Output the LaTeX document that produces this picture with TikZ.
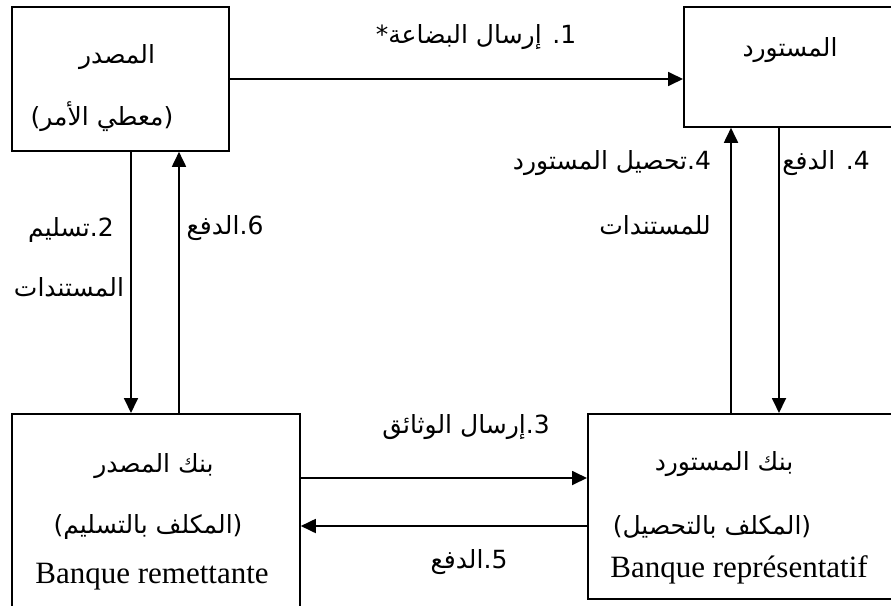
\documentclass[tikz,border=0pt]{standalone}
\usepackage{fontspec}
\setmainfont{Liberation Serif}
\newfontfamily\arabicfont[Script=Arabic]{DejaVu Sans}
\TeXXeTstate=1
\usetikzlibrary{arrows.meta,calc}
\begin{document}
\begin{tikzpicture}[x=1pt,y=-1pt,
  box/.style={draw,line width=1.8pt,inner sep=0pt,anchor=north west},
  arr/.style={line width=1.8pt,-{Triangle[length=15pt,width=14pt]}},
  ar/.style={font=\arabicfont\fontsize{25}{29}\selectfont,inner sep=0pt},
  lat/.style={font=\fontsize{31}{36}\selectfont,inner sep=0pt,anchor=base}]
\useasboundingbox (0,0) rectangle (891,605);
\clip (0,0) rectangle (891,605);
% boxes
\node[box,minimum width=217pt,minimum height=144pt] (A) at (11,6) {};
\node[box,minimum width=214pt,minimum height=120pt] (B) at (683,6) {};
\node[box,minimum width=288pt,minimum height=197pt] (C) at (11,413) {};
\node[box,minimum width=313pt,minimum height=185pt] (D) at (587,413) {};
% box texts
\node[ar] (tA1) at (117,57) {\beginR المصدر\endR};
\node[ar] (tA2) at (102,117) {\beginR (معطي الأمر)\endR};
\node[ar] (tB1) at (790,50) {\beginR المستورد\endR};
\node[ar] (tC1) at (154,466) {\beginR بنك المصدر\endR};
\node[ar] (tC2) at (148,527) {\beginR (المكلف بالتسليم)\endR};
\node[lat] (tC3) at (152,583) {Banque remettante};
\node[ar] (tD1) at (724,464) {\beginR بنك المستورد\endR};
\node[ar] (tD2) at (712,527) {\beginR (المكلف بالتحصيل)\endR};
\node[lat] (tD3) at (739,577) {Banque représentatif};
% x positions of vertical connectors
\coordinate (xa) at (131,0);
\coordinate (xb) at (179,0);
\coordinate (xc) at (731,0);
\coordinate (xd) at (779,0);
\coordinate (ya) at (0,79);
\coordinate (yb) at (0,478);
\coordinate (yc) at (0,526);
% connectors
\draw[arr] (A.east |- ya) -- (B.west |- ya);
\draw[arr] (A.south -| xa) -- (C.north -| xa);
\draw[arr] (C.north -| xb) -- (A.south -| xb);
\draw[arr] (C.east |- yb) -- (D.west |- yb);
\draw[arr] (D.west |- yc) -- (C.east |- yc);
\draw[arr] (D.north -| xc) -- (B.south -| xc);
\draw[arr] (B.south -| xd) -- (D.north -| xd);
% connector labels
\node[ar] (l1) at (476,37) {\beginR 1. إرسال البضاعة*\endR};
\node[ar] (l2a) at (71,230) {\beginR 2.تسليم\endR};
\node[ar] (l2b) at (69,287) {\beginR المستندات\endR};
\node[ar] (l6) at (225,228) {\beginR 6.الدفع\endR};
\node[ar] (l4a) at (612,163) {\beginR 4.تحصيل المستورد\endR};
\node[ar] (l4b) at (655,225) {\beginR للمستندات\endR};
\node[ar] (l4c) at (826,163) {\beginR 4. الدفع\endR};
\node[ar] (l3) at (466,427) {\beginR 3.إرسال الوثائق\endR};
\node[ar] (l5) at (469,562) {\beginR 5.الدفع\endR};
\end{tikzpicture}
\end{document}
